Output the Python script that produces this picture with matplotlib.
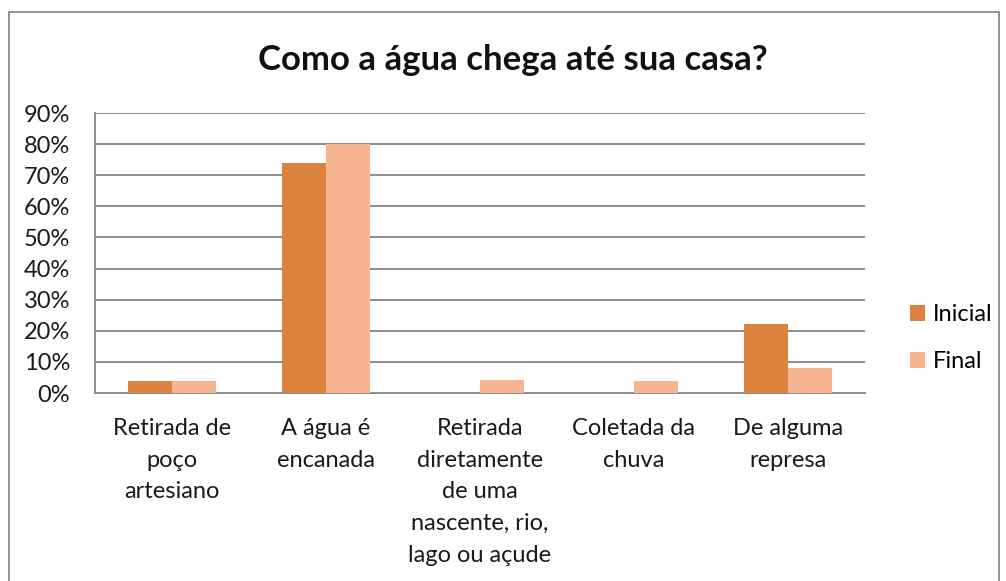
import numpy as np
import matplotlib.pyplot as plt
from matplotlib.patches import Rectangle
from matplotlib.ticker import PercentFormatter

# Respostas: como a água chega até a casa
categorias = ["Retirada de\npoço\nartesiano", "A água é\nencanada",
              "Retirada\ndiretamente\nde uma\nnascente, rio,\nlago ou açude",
              "Coletada da\nchuva", "De alguma\nrepresa"]
inicial = [3.7, 74, 0, 0, 22.3]
final = [4.0, 80, 4.3, 4.0, 8.0]
series = ["Inicial", "Final"]
cores = ["#DC843F", "#F8B591"]

plt.rcParams['font.family'] = ['Lato', 'DejaVu Sans']

fig = plt.figure(figsize=(10.06, 5.81), dpi=100)
ax = fig.add_axes([95/1006, 1-393/581, 770/1006, 280/581])

x = np.arange(len(categorias))
w = 0.286
ax.bar(x - w/2, inicial, w, color=cores[0], label=series[0], zorder=3)
ax.bar(x + w/2, final, w, color=cores[1], label=series[1], zorder=3)

ax.set_xlim(-0.5, len(categorias) - 0.5)
ax.set_ylim(0, 90)
ax.set_yticks(np.arange(0, 91, 10))
ax.yaxis.set_major_formatter(PercentFormatter(decimals=0))
ax.set_xticks(x)
ax.set_xticklabels(categorias, fontsize=17, linespacing=1.63, va='top')
ax.tick_params(axis='both', length=0, labelsize=17, colors='#1a1a1a')
ax.tick_params(axis='x', pad=18)
ax.tick_params(axis='y', pad=18)
ax.grid(axis='y', color='#8c8c8c', linewidth=1.4, zorder=0)
for s in ['top', 'right']:
    ax.spines[s].set_visible(False)
for s in ['left', 'bottom']:
    ax.spines[s].set_color('#8c8c8c')
    ax.spines[s].set_linewidth(1.4)

fig.text(513/1006, 1-60/581, "Como a água chega até sua casa?", ha='center',
         va='center', fontsize=25, fontweight='bold', color='#111111')

leg = ax.legend(loc='center left', bbox_to_anchor=(1.031, 0.195), frameon=False,
                fontsize=17, handlelength=0.65, handleheight=0.65,
                handletextpad=0.3, labelspacing=1.1)

# moldura do gráfico
fig.patches.append(Rectangle((9/1006, -0.01), 990/1006, 1-12/581 + 0.01,
                             transform=fig.transFigure, fill=False,
                             edgecolor='#8c8c8c', linewidth=1.3))

fig.savefig("out.png", dpi=100)
